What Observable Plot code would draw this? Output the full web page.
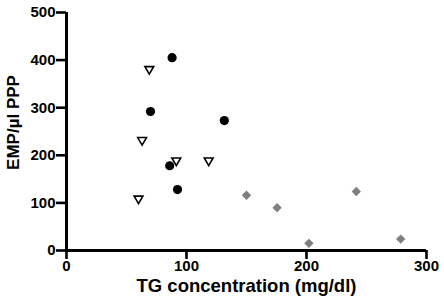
<!DOCTYPE html>
<html><head><meta charset="utf-8">
<script src="https://cdn.jsdelivr.net/npm/d3@7"></script>
<script src="https://cdn.jsdelivr.net/npm/@observablehq/plot@0.6"></script>
<style>body{margin:0;background:#fff}</style>
</head><body><div id="chart"></div>
<script>
const circleX = [88, 70, 131.5, 86, 92.5];
const circleY = [405, 292, 273, 178, 128];
const triX = [69, 63, 91.5, 118.5, 60];
const triY = [381, 232, 189, 189, 109];
const diamX = [150, 175.5, 202, 241.5, 278.5];
const diamY = [116, 90, 15, 124, 24];
const xTicks = [0, 100, 200, 300];
const yTicks = [0, 100, 200, 300, 400, 500];

const circles = circleX.map((x, i) => ({x, y: circleY[i]}));
const tris = triX.map((x, i) => ({x, y: triY[i]}));
const diams = diamX.map((x, i) => ({x, y: diamY[i]}));

const font = '"Liberation Sans", Arial, sans-serif';
const chart = Plot.plot({
  width: 444, height: 303,
  marginLeft: 66, marginRight: 18, marginTop: 12, marginBottom: 53,
  style: {fontFamily: font, fontSize: "15px", fontWeight: "bold", color: "#000", background: "#fff"},
  x: {domain: [0, 300], axis: null},
  y: {domain: [0, 500], axis: null},
  marks: [
    Plot.ruleX(xTicks, {x: d => d, y1: 0, y2: 0, insetBottom: -9, stroke: "#000", strokeWidth: 2.6}),
    Plot.ruleY(yTicks, {y: d => d, x1: 0, x2: 0, insetLeft: -10, stroke: "#000", strokeWidth: 2.6}),
    Plot.text(xTicks, {x: d => d, text: d => String(d), frameAnchor: "bottom", dy: 20, fontSize: 15, fontWeight: "bold", fill: "#000"}),
    Plot.text(yTicks, {y: d => d, text: d => String(d), frameAnchor: "left", textAnchor: "end", dx: -11, fontSize: 15, fontWeight: "bold", fill: "#000"}),
    Plot.ruleY([0], {stroke: "#000", strokeWidth: 3}),
    Plot.ruleX([0], {stroke: "#000", strokeWidth: 3}),
    Plot.dot(circles, {x: "x", y: "y", r: 4.6, fill: "#000", stroke: "none"}),
    Plot.dot(tris, {x: "x", y: "y", symbol: "triangle2", rotate: 180, r: 4.2, fill: "#fff", stroke: "#000", strokeWidth: 1.6}),
    Plot.dot(diams, {x: "x", y: "y", symbol: "diamond2", r: 4.2, fill: "#7f7f7f", stroke: "none"}),
    Plot.text(["TG concentration (mg/dl)"], {frameAnchor: "bottom", dy: 41, fontSize: 18.5, fontWeight: "bold", fill: "#000"}),
    Plot.text(["EMP/µl PPP"], {frameAnchor: "left", textAnchor: "middle", dx: -53, dy: -9, rotate: -90, fontSize: 17, fontWeight: "bold", fill: "#000"})
  ]
});
document.getElementById("chart").append(chart);
</script></body></html>
